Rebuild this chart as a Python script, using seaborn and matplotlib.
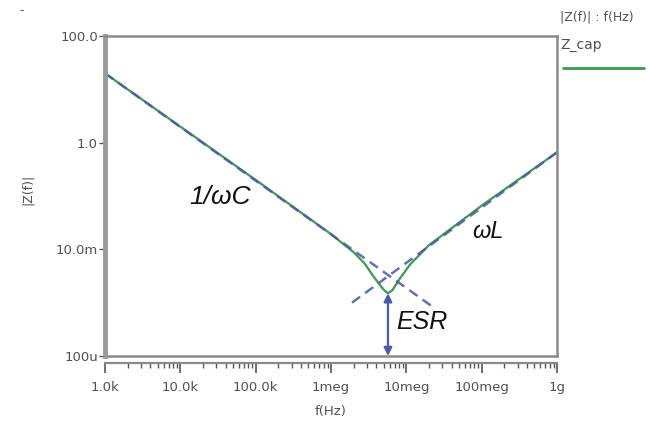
import numpy as np
import pandas as pd
import matplotlib
matplotlib.use("Agg")
import matplotlib.pyplot as plt
import seaborn as sns

# |Z| of the capacitor
freq = [1e3, 1e4, 1e5, 1e6, 2e6, 2.8e6, 3.6e6, 4.9e6, 5.7e6, 6.5e6, 8.3e6,
        1.12e7, 2e7, 1e8, 1e9]
z_cap = [20.0, 2.0, 0.2, 0.0193, 0.0088, 0.0054, 0.0032, 0.0018, 0.0015, 0.0017,
         0.0029, 0.0052, 0.0120, 0.066, 0.66]

# asymptotes (dashed)
cap_f = [1e3, 2.2e7]
cap_z = [20.0, 8.5e-4]
ind_f = [1.9e6, 1e9]
ind_z = [1.0e-3, 0.66]

# ESR arrow
esr_f = 5.7e6
esr_top = 1.5e-3

xticks = [1e3, 1e4, 1e5, 1e6, 1e7, 1e8, 1e9]
xlabels = ["1.0k", "10.0k", "100.0k", "1meg", "10meg", "100meg", "1g"]
yticks = [1e-4, 1e-2, 1, 1e2]
ylabels = ["100u", "10.0m", "1.0", "100.0"]

sns.set_style("white")
plt.rcParams["font.family"] = ["DejaVu Sans"]

green = "#3c9a52"
blue = "#4a5aa6"
frame = "#8a8a8a"
txt = "#505050"

fig = plt.figure(figsize=(6.5, 4.25), dpi=100)
ax = fig.add_axes([0.1615, 0.1624, 0.6955, 0.7529])

df = pd.DataFrame({"f": freq, "z": z_cap})
sns.lineplot(data=df, x="f", y="z", ax=ax, color=green, lw=1.6)
sns.lineplot(x=cap_f, y=cap_z, ax=ax, color=blue, lw=1.8, dashes=False,
             linestyle=(0, (4, 2.5)), alpha=0.85)
sns.lineplot(x=ind_f, y=ind_z, ax=ax, color=blue, lw=1.8, dashes=False,
             linestyle=(0, (4, 2.5)), alpha=0.85)

ax.set_xscale("log")
ax.set_yscale("log")
ax.set_xlim(1e3, 1e9)
ax.set_ylim(1e-4, 1e2)

ax.annotate("", xy=(esr_f, 1e-4), xytext=(esr_f, esr_top),
            arrowprops=dict(arrowstyle="<|-|>", color=blue, lw=1.6,
                            mutation_scale=12, shrinkA=0, shrinkB=0))
ax.text(1.6e7, 4.3e-4, "ESR", fontsize=18, style="italic", color="#111111",
        family="Liberation Sans", va="center", ha="center")
ax.text(3.4e4, 0.095, "1/\u03c9C", fontsize=19, style="italic", color="#111111",
        family="Liberation Sans", va="center", ha="center")
ax.text(1.22e8, 0.022, "\u03c9L", fontsize=17, style="italic", color="#111111",
        family="Liberation Sans", va="center", ha="center")

# frame
for s in ["top", "right"]:
    ax.spines[s].set_color(frame)
    ax.spines[s].set_linewidth(1.8)
ax.spines["left"].set_color("#9a9a9a")
ax.spines["left"].set_linewidth(3.5)
ax.spines["bottom"].set_position(("outward", 5))
ax.spines["bottom"].set_color(frame)
ax.spines["bottom"].set_linewidth(1.6)
ax.axhline(1e-4, color=frame, lw=1.8, clip_on=False)

ax.set_xticks(xticks)
ax.set_xticklabels(xlabels)
ax.set_yticks(yticks)
ax.set_yticklabels(ylabels)
ax.yaxis.set_minor_locator(matplotlib.ticker.NullLocator())
ax.xaxis.set_minor_locator(matplotlib.ticker.LogLocator(base=10, subs=np.arange(2, 10)))
ax.tick_params(axis="x", which="major", direction="out", length=7, width=1.2,
               color="#555555", labelsize=9.5, labelcolor=txt, pad=6, bottom=True)
ax.tick_params(axis="x", which="minor", direction="out", length=3.5, width=1,
               color="#555555", bottom=True)
ax.tick_params(axis="y", which="major", direction="out", length=4, width=1,
               color="#555555", labelsize=9.5, labelcolor=txt, pad=1, left=True)

ax.set_xlabel("f(Hz)", fontsize=9.5, color=txt, labelpad=8)
ax.set_ylabel("|Z(f)|", fontsize=9, color=txt)
ax.yaxis.set_label_coords(-0.158, 0.52)

# legend block at top right
fig.text(0.862, 0.96, "|Z(f)| : f(Hz)", fontsize=9, color=txt, va="center")
fig.text(0.862, 0.894, "Z_cap", fontsize=10, color=txt, va="center")
fig.add_artist(plt.Line2D([0.866, 0.99], [0.84, 0.84], color=green, lw=2,
                          transform=fig.transFigure))
fig.text(0.03, 0.975, "-", fontsize=9, color=txt, va="center")

fig.savefig("out.png", dpi=100)
